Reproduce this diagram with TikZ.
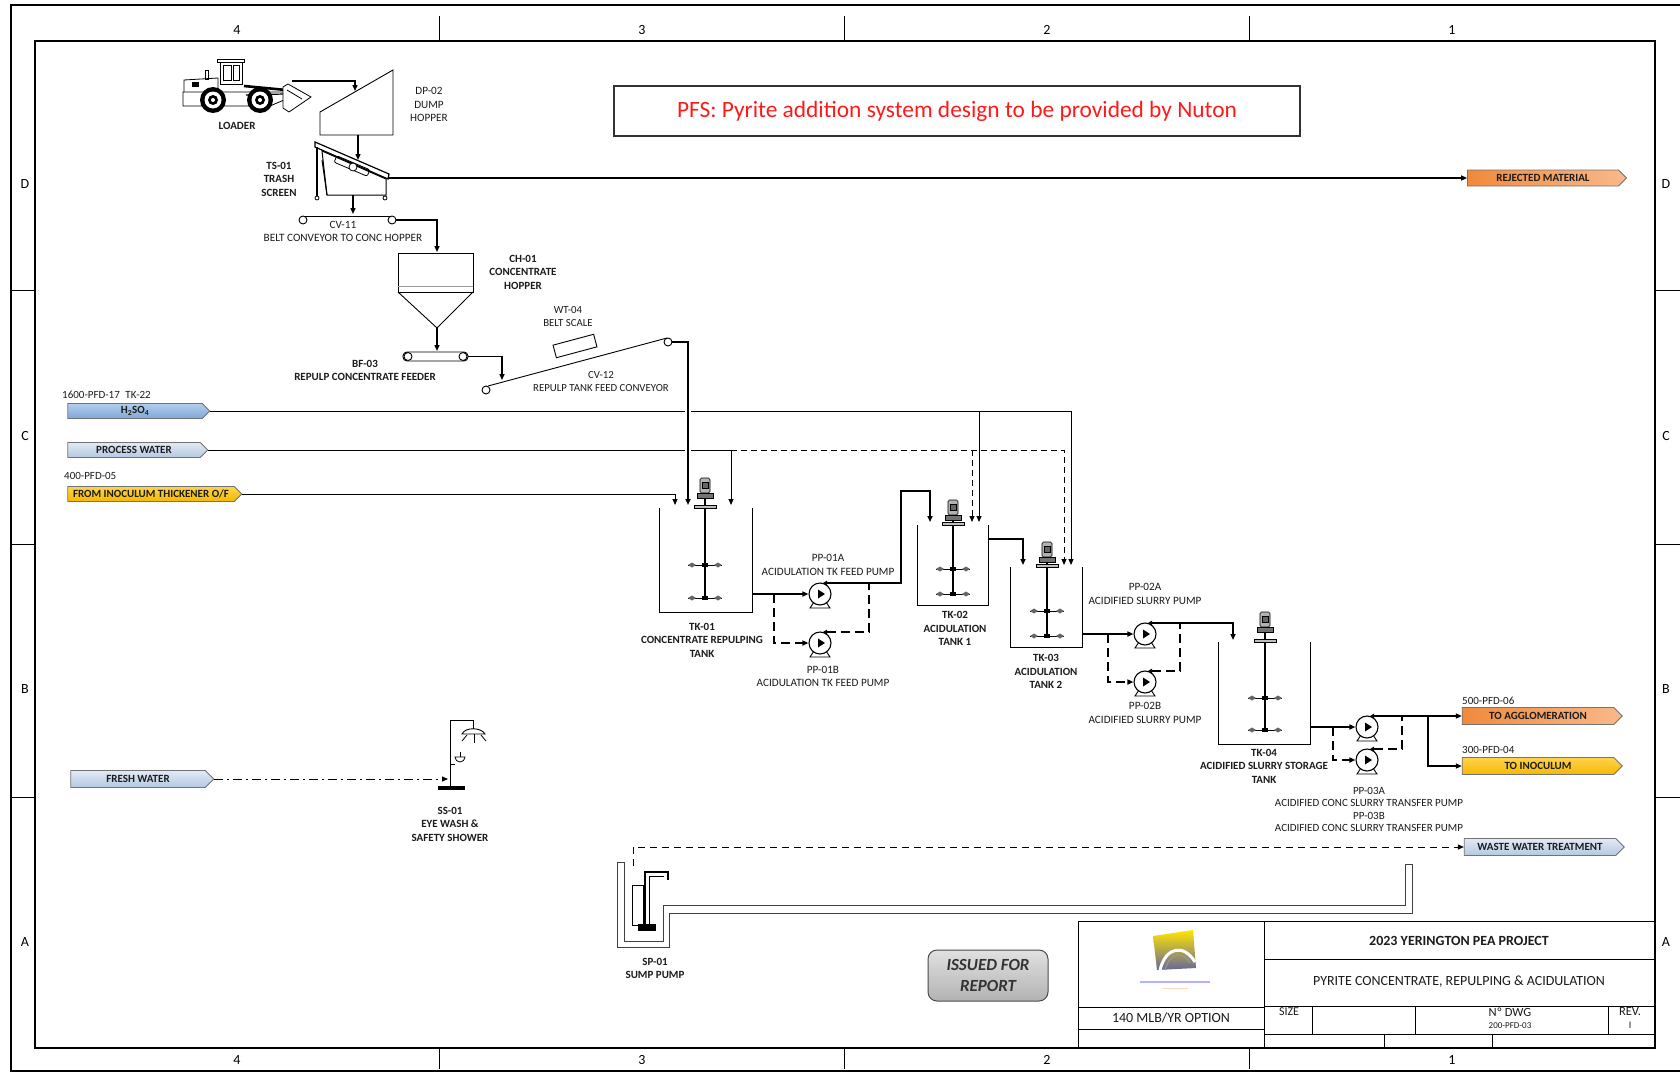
\documentclass[tikz,border=0pt]{standalone}
\usepackage{fontspec}
\setmainfont{Carlito}
\usetikzlibrary{arrows.meta,shapes.symbols,calc}

\definecolor{ink}{HTML}{1C1C1C}
\definecolor{orgD}{HTML}{F08A3C}
\definecolor{orgL}{HTML}{F9B98A}
\definecolor{yelD}{HTML}{F5B800}
\definecolor{yelL}{HTML}{FFD34D}
\definecolor{bluD}{HTML}{7FA7D8}
\definecolor{bluL}{HTML}{B3CDEC}
\definecolor{palD}{HTML}{B4C8E2}
\definecolor{palL}{HTML}{E2EAF5}
\definecolor{pfsred}{HTML}{FF1A1A}

\tikzset{
  >={Triangle[length=6pt,width=5pt]},
  pipe/.style={line width=1.8pt},
  conv/.style={line width=1.4pt},
  feed/.style={line width=0.9pt},
  stby/.style={line width=1.8pt, dash pattern=on 9pt off 5pt},
  pwdash/.style={line width=0.9pt, dash pattern=on 6pt off 4pt},
  dashdot/.style={line width=0.9pt, dash pattern=on 9pt off 4pt on 2pt off 4pt},
  wash/.style={line width=0.9pt, dash pattern=on 7pt off 5pt},
  dis/.style={arrows={Triangle[length=4pt,width=4.5pt]-Triangle[length=6pt,width=5pt]}},
  disb/.style={arrows={Triangle[length=4pt,width=4.5pt]-}},
  halo/.style={preaction={draw=white, line width=6pt, arrows=-}},
  tag/.style={signal, signal to=east, signal pointer angle=90, draw=black!55, line width=0.8pt,
    inner sep=0pt, minimum height=16pt, font=\fontsize{11}{12}\selectfont\bfseries, text=ink},
  lbl/.style={align=center, inner sep=0pt, text=ink, font=\fontsize{11}{13.5}\selectfont\bfseries},
  lbln/.style={align=center, inner sep=0pt, text=ink, font=\fontsize{11.2}{13.5}\selectfont},
  refl/.style={anchor=west, inner sep=0pt, text=ink, font=\fontsize{11}{12}\selectfont},
  zone/.style={inner sep=0pt, font=\fontsize{14}{14}\selectfont},
  tb/.style={inner sep=0pt, text=ink},
}

% open-top tank: left x, right x, top y, bottom y
\newcommand{\tankwalls}[4]{\draw[line width=1pt] (#1,#3) -- (#1,#4) -- (#2,#4) -- (#2,#3);}

% top-entry agitator: axis x, motor top, mounting plate y, upper impeller y, lower impeller y
\newcommand{\agitator}[5]{%
  \draw[line width=2.2pt] (#1,#2+15) -- (#1,#5);
  \foreach \iy in {#4,#5}{%
    \draw[line width=1pt] (#1-17,\iy) -- (#1+17,\iy);
    \fill[black!60] (#1-17,\iy) -- (#1-13,\iy-2.5) -- (#1-9,\iy) -- (#1-13,\iy+2.5) -- cycle;
    \fill[black!60] (#1+17,\iy) -- (#1+13,\iy-2.5) -- (#1+9,\iy) -- (#1+13,\iy+2.5) -- cycle;
    \fill (#1-3,\iy-2) rectangle (#1+3,\iy+2);
  }
  \draw[line width=0.6pt, fill=black!30, rounded corners=1.5pt] (#1-5,#2) rectangle (#1+5,#2+15);
  \draw[line width=0.5pt, fill=black!60] (#1-3,#2+4) rectangle (#1+3,#2+10);
  \draw[line width=0.6pt, fill=black!55] (#1-8,#2+15) rectangle (#1+8,#2+20);
  \draw[line width=0.6pt, fill=black!25] (#1-11,#3-3) rectangle (#1+11,#3);
}

% centrifugal pump: name, x, y
\newcommand{\pumpunit}[3]{%
  \draw[line width=0.9pt, fill=white] (#2-6,#3+8) -- (#2-10,#3+14) -- (#2+10,#3+14) -- (#2+6,#3+8);
  \node[circle, draw, line width=1.1pt, fill=white, minimum size=22pt, inner sep=0pt] (#1) at (#2,#3) {};
  \fill (#2-2,#3-4.5) -- (#2+5,#3) -- (#2-2,#3+4.5) -- cycle;
  \coordinate (#1-out) at (#2+3,#3-11);
}

\begin{document}
\begin{tikzpicture}[x=1pt,y=-1pt]
\useasboundingbox (0,0) rectangle (1680,1076);
\fill[white] (0,0) rectangle (1680,1076);

% ---------------- sheet frame and zones ----------------
\draw[line width=1.6pt] (1680,5) -- (11,5) -- (11,1071) -- (1680,1071);
\draw[line width=1.1pt] (35,41) rectangle (1655,1048);
\foreach \x in {439,844,1249} {
  \draw[line width=0.8pt] (\x,16) -- (\x,41);
  \draw[line width=0.8pt] (\x,1048) -- (\x,1069);
}
\foreach \y in {290,544,797} {
  \draw[line width=0.8pt] (11,\y) -- (35,\y);
  \draw[line width=0.8pt] (1655,\y) -- (1680,\y);
}
\foreach \n/\x in {4/237,3/642,2/1047,1/1452} {
  \node[zone] (zt\n) at (\x,30) {\n};
  \node[zone] (zb\n) at (\x,1060) {\n};
}
\foreach \l/\y in {D/184,C/436,B/689,A/942} {
  \node[zone] (zl\l) at (25,\y) {\l};
  \node[zone] (zr\l) at (1666,\y) {\l};
}

% ---------------- note box ----------------
\node[draw=black!80, line width=1.2pt, minimum width=686pt, minimum height=50pt, inner sep=0pt,
  text=pfsred, font=\fontsize{23.4}{26}\selectfont] (pfs) at (957,111)
  {PFS: Pyrite addition system design to be provided by Nuton};

% ---------------- wheel loader ----------------
\begin{scope}[line width=0.8pt]
  \draw[fill=white] (184,80) -- (218,78) -- (218,93) -- (184,95) -- cycle;
  \fill (192,82) rectangle (199,87);
  \draw (205,70) rectangle (208,79);
  \draw[fill=white] (217,59) rectangle (244,62);
  \draw[fill=white] (220,62) rectangle (242,84);
  \draw (223,65) rectangle (231,80);
  \draw (233,65) rectangle (239,80);
  \draw[fill=white] (183,92) -- (284,92) -- (284,100) -- (270,106) -- (183,106) -- cycle;
  \draw[line width=2.6pt] (244,86) -- (286,90);
  \draw[line width=1.2pt] (246,95) -- (284,94);
  \draw[fill=white] (283,87) -- (288,84) -- (311,97) -- (289,112) -- (283,108) -- cycle;
  \draw (287,90) -- (302,99);
  \foreach \wx in {213,260}{
    \fill (\wx,100) circle (13pt);
    \fill[white] (\wx,100) circle (8.5pt);
    \fill (\wx,100) circle (5pt);
    \fill[white] (\wx,100) circle (2pt);
  }
\end{scope}
\node[lbl] (loaderlbl) at (237,126) {LOADER};

% ---------------- DP-02 dump hopper ----------------
\draw[line width=0.9pt, fill=white] (320,112) -- (393,70) -- (393,135) -- (320,135) -- cycle;
\node[lbln] (dp02lbl) at (429,104.5) {DP-02\\DUMP\\HOPPER};
\coordinate (ldr) at (292,81);
\coordinate (hopin) at (355,91);
\draw[conv,->] (ldr) -| (hopin);
\coordinate (hopout) at (358,135);
\coordinate (tsin) at (358,160);
\draw[conv,->] (hopout) -- (tsin);

% ---------------- TS-01 trash screen ----------------
\draw[line width=1pt, fill=white] (322,151) -- (386,179) -- (386,195) -- (327,195) -- cycle;
\draw[line width=1.2pt, fill=white] (315,142) -- (389,174) -- (388,179) -- (315,147) -- cycle;
\node[draw, line width=0.8pt, rounded corners=2pt, minimum width=36pt, minimum height=7pt,
  rotate=-23, inner sep=0pt] (tsdeck) at (352,166) {};
\draw[line width=0.8pt, fill=white] (353,167) circle (4pt);
\draw[line width=1.2pt] (317,147) -- (317,196);
\draw[line width=1pt] (322,160) -- (327,195);
\draw[line width=0.8pt, fill=white] (317,198) circle (2pt);
\draw[line width=0.8pt, fill=white] (385,198) circle (2pt);
\node[lbl] (ts01lbl) at (279,179) {TS-01\\TRASH\\SCREEN};
\coordinate (tsout) at (388,178);
\node[tag, left color=orgD, right color=orgL, minimum width=159pt] (rej) at (1543,178) {REJECTED MATERIAL};
\draw[conv,->] (tsout) -- (rej.west);

% ---------------- CV-11 belt conveyor ----------------
\coordinate (tsbot) at (353,195);
\coordinate (cv11in) at (353,214);
\draw[conv,->] (tsbot) -- (cv11in);
\draw[line width=0.9pt] (303,216) -- (392,216);
\draw[line width=0.9pt, fill=white] (303,220) circle (4pt);
\draw[line width=0.9pt, fill=white] (392,220) circle (4pt);
\node[lbln] (cv11lbl) at (343,231.5) {CV-11\\BELT CONVEYOR TO CONC HOPPER};
\coordinate (cv11o) at (396,220);
\coordinate (chin) at (437,252);
\draw[conv,->] (cv11o) -| (chin);

% ---------------- CH-01 concentrate hopper ----------------
\draw[line width=0.9pt] (398,253) rectangle (473,292);
\draw[line width=0.5pt, black!40] (398,286) -- (473,286);
\draw[line width=0.9pt] (398,292) -- (437,328) -- (473,292);
\node[lbl] (ch01lbl) at (523,272) {CH-01\\CONCENTRATE\\HOPPER};
\coordinate (chout) at (437,328);
\coordinate (bfin) at (437,351);
\draw[conv,->] (chout) -- (bfin);

% ---------------- BF-03 feeder ----------------
\draw[line width=0.9pt, rounded corners=4pt] (403,352) rectangle (468,361);
\draw[line width=0.9pt, fill=white] (408,356.5) circle (4pt);
\draw[line width=0.9pt, fill=white] (463,356.5) circle (4pt);
\node[lbl] (bf03lbl) at (365,370.5) {BF-03\\REPULP CONCENTRATE FEEDER};
\coordinate (bfout) at (468,356.5);
\coordinate (cv12in) at (502,380);
\draw[conv,->] (bfout) -| (cv12in);

% ---------------- CV-12 conveyor and belt scale ----------------
\draw[line width=0.9pt] (488,386) -- (667,338);
\draw[line width=0.9pt, fill=white] (486,390) circle (4pt);
\node[draw, line width=0.9pt, minimum width=42pt, minimum height=13pt, rotate=15, inner sep=0pt] (wt04) at (575,346) {};
\node[lbln, font=\fontsize{10.8}{13.5}\selectfont] (wt04lbl) at (568,316.5) {WT-04\\BELT SCALE};
\node[lbln, font=\fontsize{10.8}{13.5}\selectfont] (cv12lbl) at (601,381.5) {CV-12\\REPULP TANK FEED CONVEYOR};

% ---------------- reagent and water headers ----------------
\node[refl] (h2ref) at (62,395) {1600-PFD-17\enspace TK-22};
\node[tag, top color=bluL, bottom color=bluD, minimum width=142pt, minimum height=15pt] (h2) at (135,411) {H\textsubscript{2}SO\textsubscript{4}};
\node[tag, top color=palL, bottom color=palD, minimum width=140pt, minimum height=15pt] (pw) at (134,450) {PROCESS WATER};
\node[refl] (inocref) at (64,476) {400-PFD-05};
\node[tag, top color=yelL, bottom color=yelD, minimum width=174pt, minimum height=15pt] (inoc) at (151,494) {FROM INOCULUM THICKENER O/F};

\coordinate (t1a) at (675,505);
\coordinate (t1b) at (688,505);
\coordinate (t1c) at (731,505);
\coordinate (pwj) at (731,450);
\coordinate (pw2) at (972,450);
\coordinate (t2pw) at (972,522);
\coordinate (t3pw) at (1064,565);
\coordinate (ac2) at (979,411);
\coordinate (t2ac) at (979,522);
\coordinate (t3ac) at (1071,565);

\draw[feed,->] (h2.east) -| (t3ac);
\draw[feed,->] (ac2) -- (t2ac);
\draw[feed,->] (pw.east) -| (t1c);
\draw[pwdash,->] (pwj) -| (t3pw);
\draw[pwdash,->] (pw2) -- (t2pw);
\draw[feed,->] (inoc.east) -| (t1a);

% conveyor discharge into TK-01, crossing the headers
\coordinate (cv12o) at (672,342);
\draw[pipe,->,halo] (cv12o) -| (t1b);
\draw[line width=0.9pt, fill=white] (668,342) circle (4pt);

% ---------------- TK-01 ----------------
\tankwalls{659}{752}{508}{612}
\agitator{705}{478}{508}{565}{598}
\node[lbl] (tk01lbl) at (702,640) {TK-01\\CONCENTRATE REPULPING\\TANK};

% PP-01A/B
\pumpunit{p1a}{820}{594}
\pumpunit{p1b}{820}{643}
\node[lbln] (p1albl) at (828,565) {PP-01A\\ACIDULATION TK FEED PUMP};
\node[lbln] (p1blbl) at (823,676.5) {PP-01B\\ACIDULATION TK FEED PUMP};
\coordinate (t1o) at (752,594);
\coordinate (b1) at (774,594);
\coordinate (r1) at (901,491);
\coordinate (t2in) at (930,522);
\coordinate (j1) at (869,583);
\draw[pipe,->] (t1o) -- (p1a.west);
\draw[stby,->] (b1) |- (p1b.west);
\draw[pipe,dis] (p1a-out) -| (r1) -| (t2in);
\draw[stby,disb] (p1b-out) -| (j1);

% ---------------- TK-02 ----------------
\tankwalls{917}{988}{525}{605}
\agitator{953}{500}{525}{569}{594}
\node[lbl] (tk02lbl) at (955,628.5) {TK-02\\ACIDULATION\\TANK 1};
\coordinate (t2o) at (988,539);
\coordinate (t3in) at (1023,565);
\draw[pipe,->] (t2o) -| (t3in);

% ---------------- TK-03 ----------------
\tankwalls{1010}{1082}{567}{647}
\agitator{1047}{542}{567}{611}{636}
\node[lbl] (tk03lbl) at (1046,671.5) {TK-03\\ACIDULATION\\TANK 2};

% PP-02A/B
\pumpunit{p2a}{1145}{634}
\pumpunit{p2b}{1145}{682}
\node[lbln] (p2albl) at (1145,594) {PP-02A\\ACIDIFIED SLURRY PUMP};
\node[lbln] (p2blbl) at (1145,713) {PP-02B\\ACIDIFIED SLURRY PUMP};
\coordinate (t3o) at (1082,634);
\coordinate (b2) at (1108,634);
\coordinate (t4in) at (1233,640);
\coordinate (j2) at (1180,623);
\draw[pipe,->] (t3o) -- (p2a.west);
\draw[stby,->] (b2) |- (p2b.west);
\draw[pipe,dis] (p2a-out) -| (t4in);
\draw[stby,disb] (p2b-out) -| (j2);

% ---------------- TK-04 ----------------
\tankwalls{1218}{1310}{642}{744}
\agitator{1265}{612}{642}{698}{730}
\node[lbl] (tk04lbl) at (1264,766) {TK-04\\ACIDIFIED SLURRY STORAGE\\TANK};

% PP-03A/B
\pumpunit{p3a}{1367}{727}
\pumpunit{p3b}{1367}{760}
\node[lbln, font=\fontsize{11}{12.3}\selectfont] (p3lbl) at (1369,809.5)
  {PP-03A\\ACIDIFIED CONC SLURRY TRANSFER PUMP\\PP-03B\\ACIDIFIED CONC SLURRY TRANSFER PUMP};
\node[refl] (aggref) at (1462,701) {500-PFD-06};
\node[tag, left color=orgD, right color=orgL, minimum width=160pt, minimum height=17pt] (agg) at (1538,716) {TO AGGLOMERATION};
\node[refl] (inref) at (1462,750) {300-PFD-04};
\node[tag, top color=yelL, bottom color=yelD, minimum width=160pt, minimum height=17pt] (toin) at (1538,766) {TO INOCULUM};
\coordinate (t4o) at (1310,727);
\coordinate (b3) at (1333,727);
\coordinate (b4) at (1428,716);
\coordinate (j3) at (1402,716);
\draw[pipe,->] (t4o) -- (p3a.west);
\draw[stby,->] (b3) |- (p3b.west);
\draw[pipe,dis] (p3a-out) -- (agg.west);
\draw[pipe,->] (b4) |- (toin.west);
\draw[stby,disb] (p3b-out) -| (j3);

% ---------------- fresh water and SS-01 ----------------
\node[tag, top color=palL, bottom color=palD, minimum width=143pt, minimum height=17pt] (fw) at (138,779) {FRESH WATER};
\coordinate (ssin) at (448,779);
\draw[dashdot,->] (fw.east) -- (ssin);
\draw[line width=0.9pt] (450,788) -- (450,720) -- (473,720) -- (473,729);
\fill (438,786) rectangle (465,790);
\draw[line width=0.9pt] (462,734) .. controls (465,727) and (481,727) .. (485,734) -- cycle;
\draw[line width=0.8pt] (474,734) -- (474,743);
\draw[line width=0.8pt] (467,735) -- (462,741);
\draw[line width=0.8pt] (481,735) -- (486,741);
\draw[line width=0.8pt] (450,764) -- (455,764);
\draw[line width=0.8pt] (455,757) arc[start angle=180, end angle=360, radius=5pt] -- cycle;
\draw[line width=0.8pt] (460,757) -- (460,752);
\node[lbl] (ss01lbl) at (450,824) {SS-01\\EYE WASH \&\\SAFETY SHOWER};

% ---------------- SP-01 sump and drain trench ----------------
\draw[line width=0.9pt, black!75] (617,862) -- (617,947) -- (669,947) -- (669,913) -- (1412,913)
  -- (1412,864) -- (1405,864) -- (1405,905) -- (663,905) -- (663,941) -- (624,941) -- (624,862) -- cycle;
\draw[line width=0.8pt] (632,885) rectangle (643,925);
\draw[line width=1.4pt] (645,927) -- (645,872) -- (668,872) -- (668,880);
\draw[line width=0.8pt] (649,927) -- (649,876) -- (664,876);
\fill (638,924) rectangle (656,931);
\node[lbl] (sp01lbl) at (655,968.5) {SP-01\\SUMP PUMP};
\node[tag, top color=palL, bottom color=palD, minimum width=160pt, minimum height=17pt] (wwt) at (1540,847) {WASTE WATER TREATMENT};
\coordinate (spd) at (633,866);
\draw[wash,->] (spd) |- (wwt.west);

% ---------------- issue stamp ----------------
\node[draw=black!70, line width=1pt, rounded corners=9pt, top color=black!12, bottom color=black!30,
  minimum width=120pt, minimum height=51pt, inner sep=0pt, align=center, text=black!80,
  font=\fontsize{17}{20.5}\selectfont\bfseries\itshape] (stamp) at (988,975.5) {ISSUED FOR\\REPORT};

% ---------------- title block ----------------
\draw[line width=1pt] (1078,921) rectangle (1655,1048);
\draw[line width=0.8pt] (1264,921) -- (1264,1048);
\draw[line width=0.8pt] (1264,959) -- (1655,959);
\draw[line width=0.8pt] (1264,1006) -- (1655,1006);
\draw[line width=0.8pt] (1264,1034) -- (1655,1034);
\draw[line width=0.8pt] (1312,1006) -- (1312,1034);
\draw[line width=0.8pt] (1415,1006) -- (1415,1034);
\draw[line width=0.8pt] (1608,1006) -- (1608,1034);
\draw[line width=0.8pt] (1384,1034) -- (1384,1048);
\draw[line width=0.8pt] (1492,1034) -- (1492,1048);
\draw[line width=0.8pt] (1078,1007) -- (1264,1007);
\draw[line width=0.8pt] (1078,1029) -- (1264,1029);
% logo
\shade[top color=yellow!80!orange, bottom color=blue!20!gray] (1153,936) -- (1193,930) -- (1196,968) -- (1157,970) -- cycle;
\draw[white, line width=3pt] (1160,970) .. controls (1166,946) and (1184,944) .. (1195,962);
\draw[black!40, line width=1pt] (1165,970) .. controls (1170,952) and (1183,951) .. (1190,963);
\draw[blue!30, line width=1.6pt] (1140,982) -- (1210,982);
\draw[orange!30, line width=1pt] (1162,988) -- (1188,988);
\node[tb, font=\fontsize{14}{16}\selectfont] (opt) at (1171,1018) {140 MLB/YR OPTION};
\node[tb, font=\fontsize{14}{16}\selectfont\bfseries] (proj) at (1459,941) {2023 YERINGTON PEA PROJECT};
\node[tb, font=\fontsize{14}{16}\selectfont] (dtitle) at (1459,982) {PYRITE CONCENTRATE, REPULPING \& ACIDULATION};
\node[tb, font=\fontsize{12}{14}\selectfont] (size) at (1289,1012) {SIZE};
\node[tb, font=\fontsize{12.5}{14}\selectfont] (dwg) at (1510,1012) {Nº DWG};
\node[tb, font=\fontsize{9}{10}\selectfont] (dwgno) at (1510,1026) {200-PFD-03};
\node[tb, font=\fontsize{12.5}{14}\selectfont] (rev) at (1630,1012) {REV.};
\node[tb, font=\fontsize{10}{11}\selectfont] (revno) at (1630,1025) {I};
\end{tikzpicture}
\end{document}
